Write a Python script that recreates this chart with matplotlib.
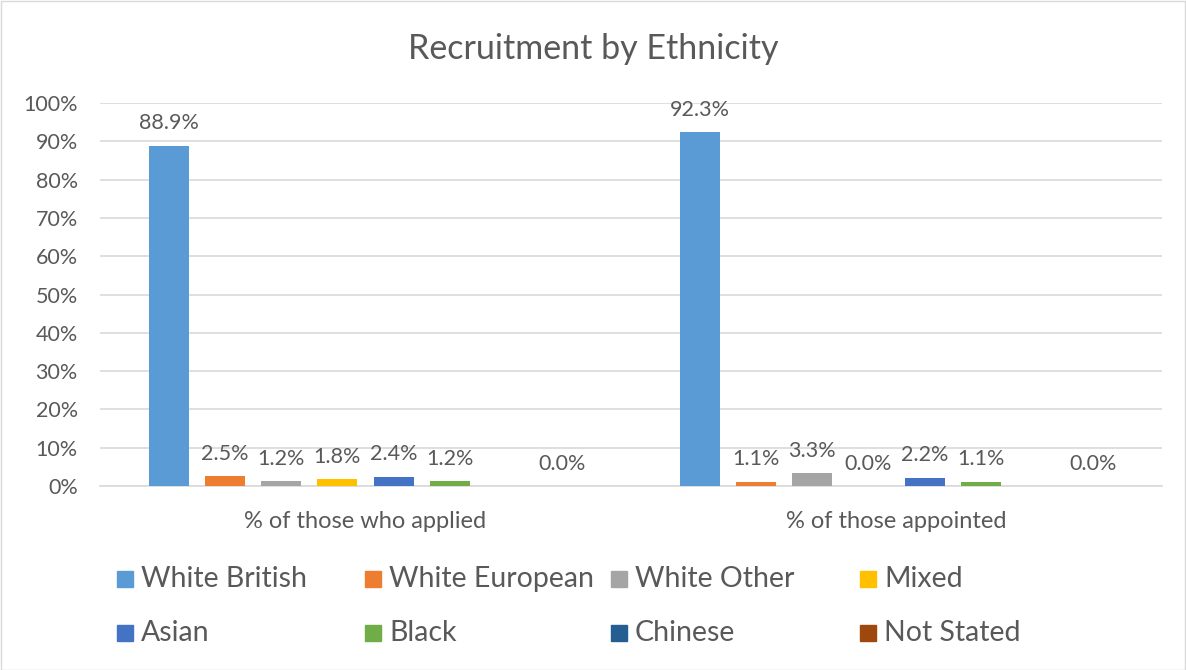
import numpy as np
import matplotlib
matplotlib.use("Agg")
import matplotlib.pyplot as plt
from matplotlib.patches import Rectangle

# Data
categories = ["% of those who applied", "% of those appointed"]
series = ["White British", "White European", "White Other", "Mixed",
          "Asian", "Black", "Chinese", "Not Stated"]
colors = ["#5B9BD5", "#ED7D31", "#A5A5A5", "#FFC000",
          "#4472C4", "#70AD47", "#255E91", "#9E480E"]
applied = [88.9, 2.5, 1.2, 1.8, 2.4, 1.2, np.nan, 0.0]
appointed = [92.3, 1.1, 3.3, 0.0, 2.2, 1.1, np.nan, 0.0]
values = np.array([applied, appointed])  # rows = categories

plt.rcParams['font.family'] = ['Lato', 'DejaVu Sans']
txt = "#595959"
grid = "#D9D9D9"

fig = plt.figure(figsize=(11.86, 6.70), dpi=100)
ax = fig.add_axes([100/1186, 1-486/670, 1062/1186, 383/670])

x = np.arange(len(categories))
step = 56/530
width = 40/530
for i, name in enumerate(series):
    pos = x + (i - 3.5) * step
    vals = values[:, i]
    ax.bar(pos, np.nan_to_num(vals), width=width, color=colors[i], label=name, zorder=3)
    for p, v in zip(pos, vals):
        if np.isnan(v):
            continue
        ax.annotate(f"{v:.1f}%", (p, v), xytext=(0, 9), textcoords="offset points",
                    ha="center", va="bottom", fontsize=15.5, color=txt)

ax.set_xlim(-0.5, 1.5)
ax.set_ylim(0, 100)
ax.set_yticks(range(0, 101, 10))
ax.set_yticklabels([f"{t}%" for t in range(0, 101, 10)])
ax.set_xticks(x)
ax.set_xticklabels(categories)
ax.tick_params(axis="y", length=0, labelsize=15.5, labelcolor=txt, pad=16)
ax.tick_params(axis="x", length=0, labelsize=17, labelcolor=txt, pad=18)
ax.grid(axis="y", color=grid, linewidth=1.2, zorder=0)
for s in ["top", "right", "left"]:
    ax.spines[s].set_visible(False)
ax.spines["bottom"].set_color(grid)
ax.spines["bottom"].set_linewidth(1.2)

fig.text(0.5, 1-49/670, "Recruitment by Ethnicity", ha="center", va="center",
         fontsize=24.5, color=txt)

# Legend laid out like Excel: 4 equal columns, 2 rows
col_x = [117, 365, 611, 860]
row_y = [579, 633]
for i, name in enumerate(series):
    cx = col_x[i % 4]
    cy = row_y[i // 4]
    fig.add_artist(Rectangle((cx/1186, 1 - (cy + 8)/670), 16/1186, 16/670,
                             transform=fig.transFigure, color=colors[i]))
    fig.text((cx + 24)/1186, 1 - cy/670, name, ha="left", va="center",
             fontsize=20.5, color=txt)

# Chart border
fig.add_artist(Rectangle((0.5/1186, 0.5/670), 1 - 1.5/1186, 1 - 1.5/670,
                         transform=fig.transFigure, fill=False, edgecolor=grid, linewidth=1))

fig.savefig("out.png", dpi=100)
